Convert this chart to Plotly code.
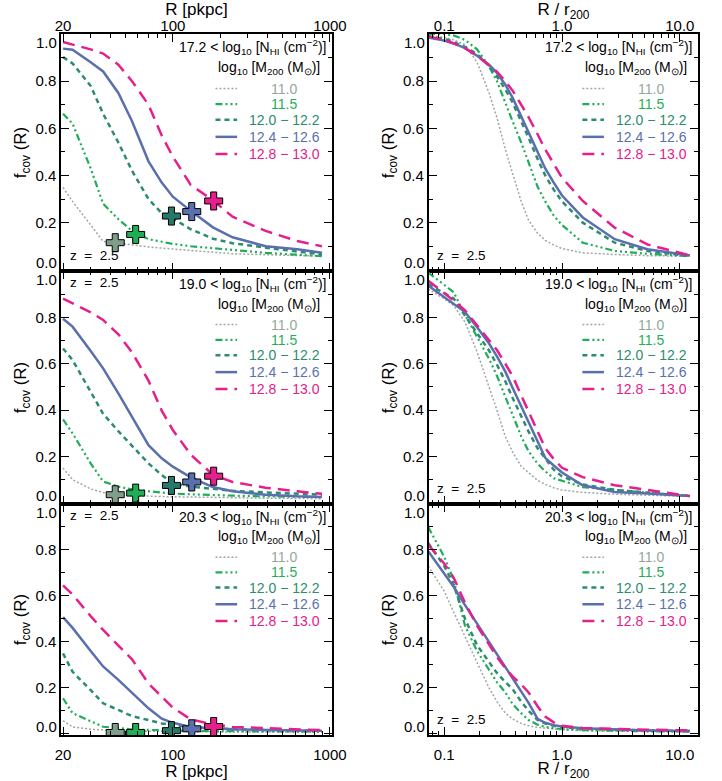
import plotly.graph_objects as go

# ---------------- data ----------------
R_PKPC = [20, 23, 30, 36, 45, 55, 70, 85, 100, 130, 180, 240, 390, 620, 890]
R_R200 = [0.073, 0.1, 0.12, 0.15, 0.19, 0.24, 0.28, 0.33, 0.38, 0.45, 0.52, 0.62,
          0.72, 0.85, 1.0, 1.5, 2.8, 5.3, 12.2]

MASS_LABELS = ["11.0", "11.5", "12.0 \u2212 12.2", "12.4 \u2212 12.6", "12.8 \u2212 13.0"]
NHI_LABELS = ["17.2", "19.0", "20.3"]
R200_PKPC = [43, 58, 98, 132, 182]
Y_TICKS = [0, 0.2, 0.4, 0.6, 0.8, 1.0]

# N_HI > 17.2, vs R [pkpc]
N17_PKPC_M110 = [0.349, 0.29, 0.19, 0.12, 0.113, 0.105, 0.097, 0.092, 0.088, 0.082, 0.076, 0.068, 0.064, 0.06, 0.058]
N17_PKPC_M115 = [0.662, 0.62, 0.43, 0.28, 0.215, 0.165, 0.13, 0.118, 0.11, 0.10, 0.092, 0.082, 0.072, 0.064, 0.058]
N17_PKPC_M120 = [0.902, 0.875, 0.78, 0.662, 0.54, 0.42, 0.30, 0.24, 0.218, 0.172, 0.132, 0.113, 0.094, 0.078, 0.065]
N17_PKPC_M124 = [0.938, 0.933, 0.88, 0.841, 0.75, 0.63, 0.46, 0.37, 0.31, 0.25, 0.18, 0.138, 0.10, 0.087, 0.072]
N17_PKPC_M128 = [0.966, 0.955, 0.935, 0.917, 0.87, 0.80, 0.70, 0.57, 0.48, 0.36, 0.295, 0.225, 0.165, 0.122, 0.10]
# N_HI > 17.2, vs R / r200
N17_R200_M110 = [0.994, 0.985, 0.975, 0.955, 0.88, 0.75, 0.645, 0.51, 0.41, 0.29, 0.21, 0.155, 0.125, 0.105, 0.09, 0.072, 0.065, 0.06, 0.058]
N17_R200_M115 = [1.0, 1.0, 0.994, 0.975, 0.935, 0.862, 0.80, 0.705, 0.63, 0.54, 0.456, 0.352, 0.29, 0.23, 0.19, 0.115, 0.08, 0.068, 0.058]
N17_R200_M120 = [0.99, 0.98, 0.966, 0.945, 0.915, 0.865, 0.82, 0.765, 0.71, 0.63, 0.56, 0.47, 0.40, 0.34, 0.29, 0.2, 0.115, 0.08, 0.058]
N17_R200_M124 = [0.985, 0.972, 0.96, 0.94, 0.908, 0.87, 0.835, 0.785, 0.73, 0.65, 0.587, 0.5, 0.43, 0.37, 0.315, 0.222, 0.13, 0.087, 0.061]
N17_R200_M128 = [0.99, 0.975, 0.96, 0.94, 0.908, 0.865, 0.84, 0.80, 0.76, 0.70, 0.647, 0.575, 0.51, 0.45, 0.39, 0.292, 0.179, 0.108, 0.061]

# N_HI > 19.0
N19_PKPC_M110 = [0.15, 0.10, 0.06, 0.045, 0.035, 0.031, 0.029, 0.027, 0.026, 0.024, 0.022, 0.021, 0.02, 0.019, 0.018]
N19_PKPC_M115 = [0.36, 0.30, 0.17, 0.092, 0.07, 0.058, 0.05, 0.045, 0.04, 0.037, 0.033, 0.031, 0.028, 0.026, 0.025]
N19_PKPC_M120 = [0.666, 0.616, 0.479, 0.384, 0.309, 0.245, 0.17, 0.12, 0.085, 0.07, 0.06, 0.052, 0.045, 0.04, 0.035]
N19_PKPC_M124 = [0.794, 0.76, 0.655, 0.58, 0.472, 0.371, 0.249, 0.192, 0.156, 0.11, 0.068, 0.05, 0.035, 0.028, 0.025]
N19_PKPC_M128 = [0.881, 0.861, 0.822, 0.789, 0.727, 0.649, 0.527, 0.398, 0.314, 0.208, 0.121, 0.09, 0.065, 0.05, 0.039]
N19_R200_M110 = [0.922, 0.88, 0.851, 0.78, 0.65, 0.50, 0.40, 0.285, 0.22, 0.157, 0.13, 0.097, 0.08, 0.065, 0.055, 0.045, 0.037, 0.032, 0.028]
N19_R200_M115 = [0.993, 0.94, 0.909, 0.811, 0.714, 0.621, 0.548, 0.456, 0.376, 0.287, 0.222, 0.169, 0.136, 0.106, 0.095, 0.068, 0.056, 0.044, 0.029]
N19_R200_M120 = [0.943, 0.904, 0.882, 0.807, 0.733, 0.657, 0.596, 0.524, 0.453, 0.37, 0.307, 0.235, 0.189, 0.143, 0.114, 0.079, 0.056, 0.044, 0.029]
N19_R200_M124 = [0.937, 0.888, 0.859, 0.823, 0.757, 0.687, 0.632, 0.566, 0.496, 0.415, 0.349, 0.265, 0.194, 0.161, 0.131, 0.076, 0.047, 0.040, 0.029]
N19_R200_M128 = [0.958, 0.904, 0.873, 0.830, 0.765, 0.702, 0.659, 0.600, 0.547, 0.464, 0.392, 0.305, 0.236, 0.189, 0.151, 0.111, 0.076, 0.056, 0.029]

# N_HI > 20.3
N20_PKPC_M110 = [0.057, 0.03, 0.02, 0.016, 0.013, 0.012, 0.011, 0.01, 0.01, 0.009, 0.009, 0.008, 0.008, 0.007, 0.007]
N20_PKPC_M115 = [0.155, 0.09, 0.055, 0.031, 0.025, 0.019, 0.017, 0.015, 0.014, 0.013, 0.012, 0.011, 0.01, 0.01, 0.009]
N20_PKPC_M120 = [0.35, 0.27, 0.19, 0.133, 0.104, 0.077, 0.06, 0.045, 0.038, 0.029, 0.024, 0.02, 0.017, 0.015, 0.013]
N20_PKPC_M124 = [0.508, 0.461, 0.36, 0.293, 0.235, 0.18, 0.111, 0.066, 0.048, 0.03, 0.025, 0.02, 0.017, 0.015, 0.013]
N20_PKPC_M128 = [0.646, 0.606, 0.512, 0.452, 0.384, 0.324, 0.219, 0.162, 0.114, 0.063, 0.041, 0.03, 0.025, 0.02, 0.016]
N20_R200_M110 = [0.73, 0.62, 0.53, 0.42, 0.31, 0.20, 0.14, 0.09, 0.065, 0.045, 0.035, 0.028, 0.024, 0.02, 0.018, 0.014, 0.012, 0.01, 0.008]
N20_R200_M115 = [0.90, 0.77, 0.67, 0.47, 0.36, 0.28, 0.225, 0.18, 0.13, 0.09, 0.06, 0.04, 0.03, 0.025, 0.02, 0.016, 0.013, 0.011, 0.01]
N20_R200_M120 = [0.83, 0.73, 0.65, 0.50, 0.385, 0.31, 0.265, 0.225, 0.195, 0.14, 0.10, 0.06, 0.045, 0.035, 0.028, 0.022, 0.018, 0.015, 0.012]
N20_R200_M124 = [0.795, 0.70, 0.64, 0.56, 0.48, 0.40, 0.345, 0.29, 0.24, 0.185, 0.135, 0.065, 0.048, 0.038, 0.032, 0.024, 0.018, 0.015, 0.012]
N20_R200_M128 = [0.824, 0.74, 0.68, 0.57, 0.47, 0.385, 0.335, 0.285, 0.25, 0.215, 0.18, 0.12, 0.075, 0.05, 0.035, 0.025, 0.02, 0.018, 0.015]

# f_cov at r200 (crosses)
CROSS_N17 = [0.115, 0.15, 0.228, 0.247, 0.292]
CROSS_N19 = [0.035, 0.042, 0.075, 0.09, 0.115]
CROSS_N20 = [0.006, 0.006, 0.014, 0.022, 0.032]

# ---------------- style ----------------
COLORS = ["#93a89b", "#1fae57", "#2c8c6e", "#5a6fae", "#e5208c"]
LINE_COLORS = ["#a0a6a3", "#1fae57", "#2c8c6e", "#5a6fae", "#e5208c"]
CROSS_COLORS = ["#7f9e8a", "#1fae57", "#26786a", "#5a6fae", "#e5208c"]
DASHES = ["2px,2px", "7px,3px,2px,3px,2px,3px,2px,3px", "5px,4px", "solid", "12px,7px"]
WIDTHS = [1.5, 2.2, 2.5, 2.5, 2.5]
FONT = "Liberation Sans, Arial, sans-serif"

W, H = 722, 781
X_DOM = [(56 / W, 335 / W), (435 / W, 713 / W)]
ROW_PX = [(34, 271), (271, 504), (504, 735)]
Y_DOM = [(1 - b / H, 1 - t / H) for t, b in ROW_PX]

panels = [
    (N17_PKPC_M110, N17_PKPC_M115, N17_PKPC_M120, N17_PKPC_M124, N17_PKPC_M128),
    (N17_R200_M110, N17_R200_M115, N17_R200_M120, N17_R200_M124, N17_R200_M128),
    (N19_PKPC_M110, N19_PKPC_M115, N19_PKPC_M120, N19_PKPC_M124, N19_PKPC_M128),
    (N19_R200_M110, N19_R200_M115, N19_R200_M120, N19_R200_M124, N19_R200_M128),
    (N20_PKPC_M110, N20_PKPC_M115, N20_PKPC_M120, N20_PKPC_M124, N20_PKPC_M128),
    (N20_R200_M110, N20_R200_M115, N20_R200_M120, N20_R200_M124, N20_R200_M128),
]
crosses = [CROSS_N17, CROSS_N19, CROSS_N20]

fig = go.Figure()
layout = dict(width=W, height=H, margin=dict(l=0, r=0, t=0, b=0),
              paper_bgcolor="white", plot_bgcolor="white", showlegend=False,
              font=dict(family=FONT, color="black", size=15))
shapes, annotations = [], []

left_minor = [30, 40, 50, 60, 70, 80, 90, 200, 300, 400, 500, 600, 700, 800, 900]
right_minor = [0.08, 0.09, 0.2, 0.3, 0.4, 0.5, 0.6, 0.7, 0.8, 0.9,
               2, 3, 4, 5, 6, 7, 8, 9]

for idx in range(6):
    row, col = idx // 2, idx % 2
    k = idx + 1
    sfx = "" if k == 1 else str(k)
    xs = R_PKPC if col == 0 else R_R200
    for m in range(5):
        fig.add_trace(go.Scatter(
            x=xs, y=panels[idx][m], mode="lines", xaxis=f"x{sfx}", yaxis=f"y{sfx}",
            line=dict(color=LINE_COLORS[m], width=WIDTHS[m], dash=DASHES[m]),
            hoverinfo="skip"))
    if col == 0:
        fig.add_trace(go.Scatter(
            x=R200_PKPC, y=crosses[row], mode="markers", xaxis=f"x{sfx}", yaxis=f"y{sfx}",
            marker=dict(symbol="cross", size=15, color=CROSS_COLORS,
                        line=dict(color="black", width=1)),
            hoverinfo="skip"))

    if col == 0:
        xcfg = dict(type="log", range=[1.29, 3.012], tickvals=[20, 100, 1000],
                    ticktext=["20", "100", "1000"],
                    minor=dict(tickmode="array", tickvals=left_minor, ticks="inside",
                               ticklen=4, tickcolor="black", tickwidth=1.2))
        xtitle = "R [pkpc]"
    else:
        xcfg = dict(type="log", range=[-1.132, 1.157], tickvals=[0.1, 1, 10],
                    ticktext=["0.1", "1.0", "10.0"],
                    minor=dict(tickmode="array", tickvals=right_minor, ticks="inside",
                               ticklen=4, tickcolor="black", tickwidth=1.2))
        xtitle = "R / r<sub>200</sub>"
    xcfg.update(domain=list(X_DOM[col]), anchor=f"y{sfx}", ticks="inside", ticklen=8,
                tickwidth=1.2, tickcolor="black", showline=True, linecolor="black",
                linewidth=2, mirror="allticks", showgrid=False, zeroline=False,
                tickfont=dict(size=15, family=FONT))
    if row == 0:
        xcfg.update(side="top", ticklabelstandoff=-5,
                    title=dict(text=xtitle, font=dict(size=17, family=FONT), standoff=0))
    elif row == 2:
        xcfg.update(side="bottom", ticklabelstandoff=5,
                    title=dict(text=xtitle, font=dict(size=17, family=FONT), standoff=5))
    else:
        xcfg.update(showticklabels=False)
    ycfg = dict(domain=list(Y_DOM[row]), anchor=f"x{sfx}", range=[-0.005, 1.0],
                tickvals=Y_TICKS,
                ticktext=["" if v in (0, 1.0) else f"{v:.1f}" for v in Y_TICKS],
                minor=dict(dtick=0.1, tick0=0, ticks="inside", ticklen=4,
                           tickcolor="black", tickwidth=1.2),
                ticks="inside", ticklen=8, tickwidth=1.2, tickcolor="black",
                showline=True, linecolor="black", linewidth=2, mirror="allticks",
                showgrid=False, zeroline=False, tickfont=dict(size=15, family=FONT),
                title=dict(text="f<sub>cov</sub> (R)", font=dict(size=17, family=FONT),
                           standoff=4))
    layout[f"xaxis{sfx}"] = xcfg
    layout[f"yaxis{sfx}"] = ycfg

    xd, yd = f"x{sfx} domain", f"y{sfx} domain"
    # end labels of y axis, kept inside the panel height as in the original
    annotations.append(dict(xref=xd, yref=f"y{sfx}", x=0, y=Y_TICKS[-1], xanchor="right",
                            yanchor="top", xshift=-2, yshift=2, text=f"{Y_TICKS[-1]:.1f}",
                            showarrow=False, font=dict(size=15, family=FONT)))
    annotations.append(dict(xref=xd, yref=f"y{sfx}", x=0, y=Y_TICKS[0], xanchor="right",
                            yanchor="bottom", xshift=-2, yshift=-3, text=f"{Y_TICKS[0]:.1f}",
                            showarrow=False, font=dict(size=15, family=FONT)))
    annotations.append(dict(
        xref=xd, yref=yd, x=0.985, y=0.945, xanchor="right", yanchor="middle",
        text=f"{NHI_LABELS[row]} < log<sub>10</sub> [N<sub>HI</sub> (cm<sup>\u22122</sup>)]",
        showarrow=False, font=dict(size=14, family=FONT, color="black")))
    annotations.append(dict(
        xref=xd, yref=yd, x=0.965, y=0.855, xanchor="right", yanchor="middle",
        text="log<sub>10</sub> [M<sub>200</sub> (M<sub>\u2299</sub>)]",
        showarrow=False, font=dict(size=14, family=FONT, color="black")))
    ys = [0.77, 0.704, 0.638, 0.566, 0.494]
    for m in range(5):
        shapes.append(dict(type="line", xref=xd, yref=yd, x0=0.57, x1=0.65,
                           y0=ys[m], y1=ys[m],
                           line=dict(color=LINE_COLORS[m], width=WIDTHS[m], dash=DASHES[m])))
        annotations.append(dict(xref=xd, yref=yd, x=0.825, y=ys[m], xanchor="center",
                                yanchor="middle", text=MASS_LABELS[m], showarrow=False,
                                font=dict(size=14, family=FONT, color=COLORS[m])))
    z_top = (col == 0 and row > 0)
    annotations.append(dict(xref=xd, yref=yd, x=0.025, y=0.95 if z_top else 0.067,
                            xanchor="left", yanchor="middle", text="z  =  2.5",
                            showarrow=False,
                            font=dict(size=13.5, family=FONT, color="black")))

layout["shapes"] = shapes
layout["annotations"] = annotations
fig.update_layout(**layout)
fig.write_html("out.html")
